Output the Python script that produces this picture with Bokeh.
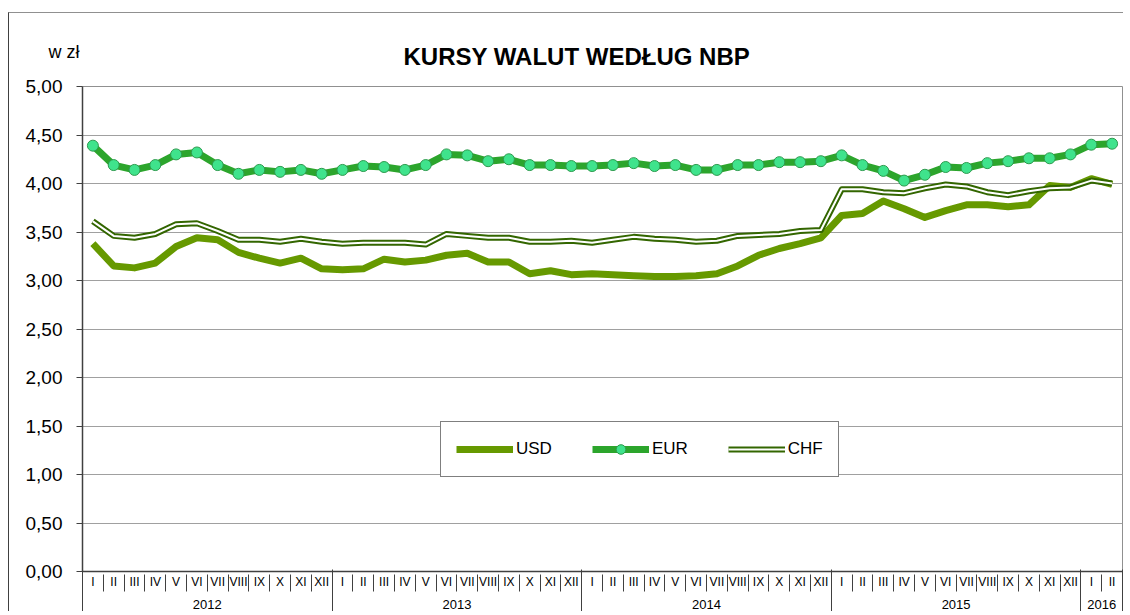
from bokeh.plotting import figure
from bokeh.models import (FixedTicker, LinearAxis, Legend, LegendItem, Title,
                          Range1d)
from bokeh.embed import file_html
from bokeh.resources import INLINE
import numpy as np

title_text = "KURSY WALUT WEDŁUG NBP"
unit_text = "w  zł"

months = ["I", "II", "III", "IV", "V", "VI", "VII", "VIII", "IX", "X", "XI", "XII"] * 4 + ["I", "II"]
years = ["2012", "2013", "2014", "2015", "2016"]
year_months = [12, 12, 12, 12, 2]

usd = [3.38, 3.15, 3.13, 3.18, 3.35, 3.44, 3.42, 3.29, 3.23, 3.18, 3.23, 3.12,
       3.11, 3.12, 3.22, 3.19, 3.21, 3.26, 3.28, 3.19, 3.19, 3.07, 3.10, 3.06,
       3.07, 3.06, 3.05, 3.04, 3.04, 3.05, 3.07, 3.15, 3.26, 3.33, 3.38, 3.44,
       3.67, 3.69, 3.82, 3.74, 3.65, 3.72, 3.78, 3.78, 3.76, 3.78, 3.98, 3.96,
       4.05, 3.99]
eur = [4.39, 4.19, 4.14, 4.19, 4.30, 4.32, 4.19, 4.10, 4.14, 4.12, 4.14, 4.10,
       4.14, 4.18, 4.17, 4.14, 4.19, 4.30, 4.29, 4.23, 4.25, 4.19, 4.19, 4.18,
       4.18, 4.19, 4.21, 4.18, 4.19, 4.14, 4.14, 4.19, 4.19, 4.22, 4.22, 4.23,
       4.29, 4.19, 4.13, 4.03, 4.09, 4.17, 4.16, 4.21, 4.23, 4.26, 4.26, 4.30,
       4.40, 4.41]
chf = [3.61, 3.46, 3.44, 3.48, 3.58, 3.59, 3.51, 3.42, 3.42, 3.40, 3.43, 3.40,
       3.38, 3.39, 3.39, 3.39, 3.37, 3.48, 3.46, 3.44, 3.44, 3.40, 3.40, 3.41,
       3.39, 3.42, 3.45, 3.43, 3.42, 3.40, 3.41, 3.46, 3.47, 3.48, 3.51, 3.52,
       3.94, 3.94, 3.91, 3.90, 3.95, 3.99, 3.97, 3.91, 3.88, 3.92, 3.95, 3.96,
       4.03, 4.00]

y_ticks = [0.0, 0.5, 1.0, 1.5, 2.0, 2.5, 3.0, 3.5, 4.0, 4.5, 5.0]
y_tick_labels = ["0,00", "0,50", "1,00", "1,50", "2,00", "2,50", "3,00", "3,50", "4,00", "4,50", "5,00"]

n = len(months)
x = np.arange(n) + 0.5
FONT = "Liberation Sans"
AX = "#404040"

p = figure(frame_width=1040, frame_height=485, output_backend="svg", toolbar_location=None,
           x_range=Range1d(0, n), y_range=Range1d(0, 5),
           min_border_left=73, min_border_right=1, min_border_top=73, min_border_bottom=0,
           x_axis_location=None)
p.styles = {"margin-left": "8px", "margin-top": "12px",
            "border-left": "1px solid #404040", "border-top": "1px solid #909090"}
p.outline_line_color = "#909090"
p.outline_line_width = 1

p.title.text = title_text
p.title.text_font = FONT
p.title.text_font_size = "24px"
p.title.text_font_style = "bold"
p.title.text_color = "black"
p.title.align = "left"
p.title.offset = 321
p.title.standoff = -108

p.add_layout(Title(text=unit_text, text_font=FONT, text_font_size="18px",
                   text_font_style="normal", text_color="black", align="left",
                   offset=-34, standoff=49), "above")

# y axis
p.yaxis.ticker = FixedTicker(ticks=y_ticks, minor_ticks=[])
p.yaxis.major_label_overrides = {t: l for t, l in zip(y_ticks, y_tick_labels)}
p.yaxis.major_label_text_font = FONT
p.yaxis.major_label_text_font_size = "19px"
p.yaxis.major_label_text_color = "black"
p.yaxis.major_tick_out = 6
p.yaxis.major_tick_in = 0
p.yaxis.major_tick_line_color = AX
p.yaxis.axis_line_color = AX
p.yaxis.axis_line_width = 1.5
p.yaxis.major_label_standoff = 14
p.ygrid.ticker = FixedTicker(ticks=y_ticks)
p.ygrid.grid_line_color = "#a0a0a0"
p.ygrid.grid_line_width = 1.2
p.xgrid.visible = False

centers = list(x)
bounds = list(range(n + 1))
ybounds = [0]
for k in year_months:
    ybounds.append(ybounds[-1] + k)
ycenters = [(a + b) / 2 for a, b in zip(ybounds[:-1], ybounds[1:])]

# month labels axis (axis line = x axis)
ax_m = LinearAxis(ticker=FixedTicker(ticks=centers, minor_ticks=[]))
ax_m.major_label_overrides = {float(c): m for c, m in zip(centers, months)}
ax_m.major_tick_out = 0
ax_m.major_tick_in = 0
ax_m.minor_tick_out = 0
ax_m.minor_tick_in = 0
ax_m.axis_line_color = AX
ax_m.axis_line_width = 1.5
ax_m.major_label_standoff = 3
ax_m.major_label_text_font = FONT
ax_m.major_label_text_font_size = "12px"
ax_m.major_label_text_color = "black"
p.add_layout(ax_m, "below")

# year labels axis, month separators as minor ticks reaching up to the x axis
ax_y = LinearAxis(ticker=FixedTicker(ticks=ycenters, minor_ticks=bounds))
ax_y.major_label_overrides = {float(c): yv for c, yv in zip(ycenters, years)}
ax_y.major_tick_out = 0
ax_y.major_tick_in = 0
ax_y.minor_tick_out = 0
ax_y.minor_tick_in = 17
ax_y.minor_tick_line_color = AX
ax_y.axis_line_color = None
ax_y.major_label_standoff = 8
ax_y.major_label_text_font = FONT
ax_y.major_label_text_font_size = "13px"
ax_y.major_label_text_color = "black"
p.add_layout(ax_y, "below")

# year separators
ax_s = LinearAxis(ticker=FixedTicker(ticks=[], minor_ticks=ybounds))
ax_s.major_tick_out = 0
ax_s.major_tick_in = 0
ax_s.minor_tick_out = 0
ax_s.minor_tick_in = 42
ax_s.minor_tick_line_color = AX
ax_s.axis_line_color = None
ax_s.major_label_standoff = 0
p.add_layout(ax_s, "below")

# series
r_usd = p.line(x, usd, line_color="#669900", line_width=7, line_join="round")
r_eur = p.line(x, eur, line_color="#2ca52c", line_width=7, line_join="round")
r_eur_m = p.scatter(x, eur, size=11, fill_color="#3fe38c", line_color="#2e9a4e", line_width=1)
r_chf_o = p.line(x, chf, line_color="#336600", line_width=6, line_join="round")
r_chf_i = p.line(x, chf, line_color="white", line_width=2, line_join="round")

legend = Legend(items=[LegendItem(label="USD", renderers=[r_usd]),
                       LegendItem(label="EUR", renderers=[r_eur, r_eur_m]),
                       LegendItem(label="CHF", renderers=[r_chf_o, r_chf_i])],
                orientation="horizontal", location=(358, 94), margin=0,
                padding=15, spacing=40, glyph_width=57, glyph_height=24,
                label_standoff=3, label_text_font=FONT, label_text_font_size="17px",
                label_text_color="black",
                border_line_color="black", border_line_width=1,
                background_fill_color="white", background_fill_alpha=1)
p.add_layout(legend, "center")

open("out.html", "w").write(file_html(p, INLINE))
